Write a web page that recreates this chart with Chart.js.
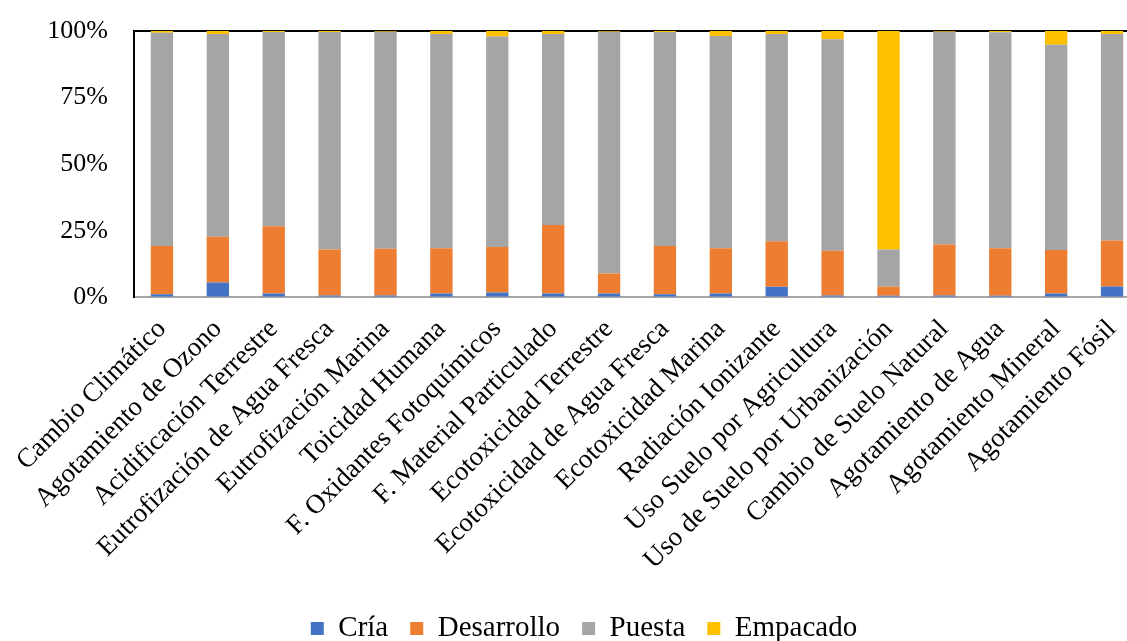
<!DOCTYPE html>
<html>
<head>
<meta charset="utf-8">
<script src="https://cdn.jsdelivr.net/npm/chart.js@4.4.0/dist/chart.umd.min.js"></script>
<style>
  html, body { margin: 0; padding: 0; background: #fff; overflow: hidden; }
  #wrap { position: relative; width: 1140px; height: 641px; }
</style>
</head>
<body>
<div id="wrap"><canvas id="myChart"></canvas></div>
<script>
// categorias de impacto
var categorias = [
  'Cambio Climático', 'Agotamiento de Ozono', 'Acidificación Terrestre',
  'Eutrofización de Agua Fresca', 'Eutrofización Marina', 'Toicidad Humana',
  'F. Oxidantes Fotoquímicos', 'F. Material Particulado', 'Ecotoxicidad Terrestre',
  'Ecotoxicidad de Agua Fresca', 'Ecotoxicidad Marina', 'Radiación Ionizante',
  'Uso Suelo por Agricultura', 'Uso de Suelo por Urbanización', 'Cambio de Suelo Natural',
  'Agotamiento de Agua', 'Agotamiento Mineral', 'Agotamiento Fósil'
];

// porcentajes por etapa
var cria        = [1.2, 5.6, 1.5, 0.7, 0.7, 1.5, 1.9, 1.5, 1.5, 1.2, 1.5, 4.0, 0.7, 0.6, 0.7, 0.6, 1.5, 4.1];
var desarrollo  = [18.1, 17.2, 25.2, 17.3, 17.6, 17.0, 17.0, 25.7, 7.5, 18.1, 17.0, 17.1, 16.8, 3.4, 19.2, 17.9, 16.3, 17.3];
var puesta      = [80.0, 76.1, 72.9, 81.6, 81.4, 80.4, 79.0, 71.7, 90.75, 80.3, 79.6, 77.8, 79.4, 14.0, 79.85, 81.0, 77.0, 77.5];
var empacado    = [0.7, 1.1, 0.4, 0.4, 0.3, 1.1, 2.1, 1.1, 0.25, 0.4, 1.9, 1.1, 3.1, 82.0, 0.25, 0.5, 5.2, 1.1];

var yTicks = [0, 25, 50, 75, 100];

var fuente = 'Liberation Serif, Times New Roman, serif';

// mueve la leyenda un poco a la derecha (como en la figura original)
var moverLeyenda = {
  id: 'moverLeyenda',
  afterLayout: function(chart) {
    chart.legend.left += 14;
    chart.legend.right += 14;
  }
};

var ctx = document.getElementById('myChart').getContext('2d');
new Chart(ctx, {
  type: 'bar',
  data: {
    labels: categorias,
    datasets: [
      { label: 'Cría', data: cria, backgroundColor: '#4472C4' },
      { label: 'Desarrollo', data: desarrollo, backgroundColor: '#ED7D31' },
      { label: 'Puesta', data: puesta, backgroundColor: '#A5A5A5' },
      { label: 'Empacado', data: empacado, backgroundColor: '#FFC000' }
    ]
  },
  options: {
    responsive: true,
    maintainAspectRatio: false,
    animation: false,
    datasets: { bar: { barPercentage: 0.4, categoryPercentage: 1.0, borderWidth: 0 } },
    layout: { padding: { top: 31, left: 0, right: 0, bottom: -12 } },
    plugins: {
      tooltip: { enabled: false },
      legend: {
        position: 'bottom',
        labels: {
          color: '#000',
          font: { family: fuente, size: 29 },
          boxWidth: 13,
          boxHeight: 13,
          padding: 22
        }
      }
    },
    scales: {
      x: {
        stacked: true,
        grid: { display: false, drawTicks: false },
        border: { color: '#a6a6a6', width: 2 },
        ticks: {
          color: '#000',
          font: { family: fuente, size: 27 },
          minRotation: 45,
          maxRotation: 45,
          autoSkip: false,
          padding: 16
        },
        afterFit: function(scale) {
          scale.paddingLeft = 0;
          scale.paddingRight = 0;
        }
      },
      y: {
        stacked: true,
        min: 0,
        max: 100,
        afterBuildTicks: function(scale) {
          scale.ticks = yTicks.map(function(v) { return { value: v }; });
        },
        grid: {
          drawTicks: false,
          lineWidth: 2,
          color: function(c) { return c.tick && c.tick.value === 100 ? '#000' : 'rgba(0,0,0,0)'; }
        },
        border: { color: '#000', width: 2 },
        ticks: {
          color: '#000',
          font: { family: fuente, size: 26 },
          padding: 26,
          callback: function(v) { return v + '%'; }
        },
        afterFit: function(scale) {
          scale.width = 134;
          scale.paddingTop = 0;
          scale.paddingBottom = 0;
        }
      }
    }
  },
  plugins: [moverLeyenda]
});
</script>
</body>
</html>
